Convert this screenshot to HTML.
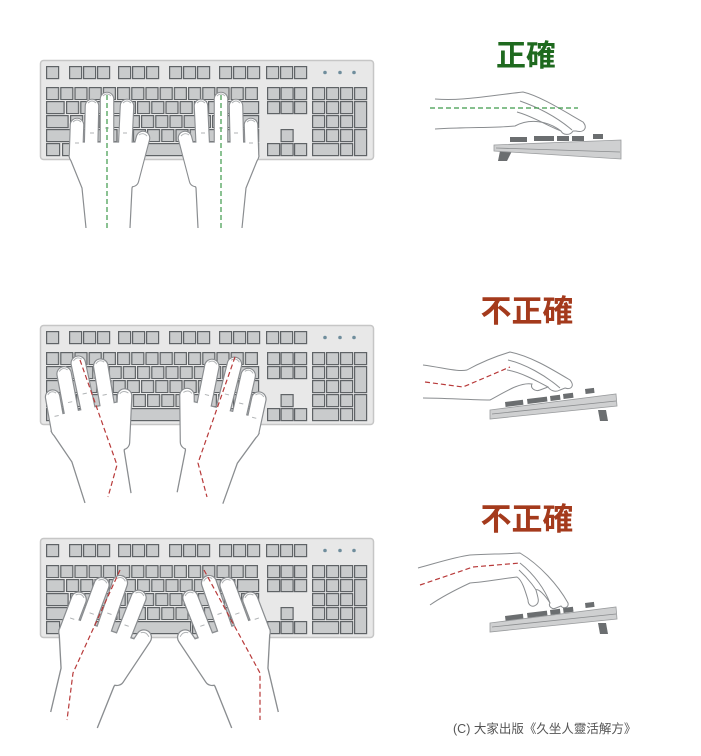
<!DOCTYPE html>
<html><head><meta charset="utf-8"><style>
html,body{margin:0;padding:0;background:#fff;}
svg{display:block;}
</style></head><body>
<svg width="701" height="756" viewBox="0 0 701 756" xmlns="http://www.w3.org/2000/svg">
<defs>
<pattern id="p6" patternUnits="userSpaceOnUse" x="6" y="27" width="14.2" height="14">
<rect x="0.6" y="0.6" width="12" height="12" fill="#c9cbcc" stroke="#5f6366" stroke-width="1.2"/></pattern>
<pattern id="p26" patternUnits="userSpaceOnUse" x="26" y="27" width="14.2" height="14">
<rect x="0.6" y="0.6" width="12" height="12" fill="#c9cbcc" stroke="#5f6366" stroke-width="1.2"/></pattern>
<pattern id="p30" patternUnits="userSpaceOnUse" x="30" y="27" width="14.2" height="14">
<rect x="0.6" y="0.6" width="12" height="12" fill="#c9cbcc" stroke="#5f6366" stroke-width="1.2"/></pattern>
<pattern id="p36" patternUnits="userSpaceOnUse" x="36" y="27" width="14.2" height="14">
<rect x="0.6" y="0.6" width="12" height="12" fill="#c9cbcc" stroke="#5f6366" stroke-width="1.2"/></pattern>
<g id="kb">
<rect x="0.5" y="0.5" width="333" height="99" rx="3" fill="#e8e8e8" stroke="#c6c6c6" stroke-width="1.5"/>
<g fill="#c9cbcc" stroke="#5f6366" stroke-width="1.2">
<rect x="6.6" y="6.6" width="12" height="12"/>
<rect x="29.6" y="6.6" width="12" height="12"/><rect x="43.6" y="6.6" width="12" height="12"/><rect x="57.6" y="6.6" width="12" height="12"/>
<rect x="78.6" y="6.6" width="12" height="12"/><rect x="92.6" y="6.6" width="12" height="12"/><rect x="106.6" y="6.6" width="12" height="12"/>
<rect x="129.6" y="6.6" width="12" height="12"/><rect x="143.6" y="6.6" width="12" height="12"/><rect x="157.6" y="6.6" width="12" height="12"/>
<rect x="179.6" y="6.6" width="12" height="12"/><rect x="193.6" y="6.6" width="12" height="12"/><rect x="207.6" y="6.6" width="12" height="12"/>
<rect x="226.6" y="6.6" width="12" height="12"/><rect x="240.6" y="6.6" width="12" height="12"/><rect x="254.6" y="6.6" width="12" height="12"/>
</g>
<g fill="#6f8d9c"><circle cx="285" cy="12.5" r="1.8"/><circle cx="300" cy="12.5" r="1.8"/><circle cx="314" cy="12.5" r="1.8"/></g>
<rect x="6" y="27" width="213" height="13" fill="url(#p6)"/>
<rect x="26" y="41" width="170.4" height="13" fill="url(#p26)"/>
<rect x="30" y="55" width="170.4" height="13" fill="url(#p30)"/>
<rect x="36" y="69" width="156.2" height="13" fill="url(#p36)"/>
<g fill="#c9cbcc" stroke="#5f6366" stroke-width="1.2">
<rect x="6.6" y="41.6" width="17.5" height="12"/><rect x="197.6" y="41.6" width="21" height="12"/>
<rect x="6.6" y="55.6" width="21.5" height="12"/><rect x="201.6" y="55.6" width="17" height="12"/>
<rect x="6.6" y="69.6" width="27.5" height="12"/><rect x="193.6" y="69.6" width="25" height="12"/>
<rect x="6.6" y="83.6" width="13" height="12"/><rect x="22.6" y="83.6" width="13" height="12"/><rect x="38.6" y="83.6" width="13" height="12"/>
<rect x="54.6" y="83.6" width="96" height="12"/><rect x="152.6" y="83.6" width="13" height="12"/><rect x="168.6" y="83.6" width="13" height="12"/><rect x="184.6" y="83.6" width="13" height="12"/><rect x="200.6" y="83.6" width="18" height="12"/>
<rect x="227.6" y="27.6" width="12" height="12"/><rect x="241.1" y="27.6" width="12" height="12"/><rect x="254.6" y="27.6" width="12" height="12"/>
<rect x="227.6" y="41.6" width="12" height="12"/><rect x="241.1" y="41.6" width="12" height="12"/><rect x="254.6" y="41.6" width="12" height="12"/>
<rect x="241.1" y="69.6" width="12" height="12"/>
<rect x="227.6" y="83.6" width="12" height="12"/><rect x="241.1" y="83.6" width="12" height="12"/><rect x="254.6" y="83.6" width="12" height="12"/>
<rect x="272.6" y="27.6" width="12" height="12"/><rect x="286.6" y="27.6" width="12" height="12"/><rect x="300.6" y="27.6" width="12" height="12"/><rect x="314.6" y="27.6" width="12" height="12"/>
<rect x="272.6" y="41.6" width="12" height="12"/><rect x="286.6" y="41.6" width="12" height="12"/><rect x="300.6" y="41.6" width="12" height="12"/><rect x="314.6" y="41.6" width="12" height="26"/>
<rect x="272.6" y="55.6" width="12" height="12"/><rect x="286.6" y="55.6" width="12" height="12"/><rect x="300.6" y="55.6" width="12" height="12"/>
<rect x="272.6" y="69.6" width="12" height="12"/><rect x="286.6" y="69.6" width="12" height="12"/><rect x="300.6" y="69.6" width="12" height="12"/><rect x="314.6" y="69.6" width="12" height="26"/>
<rect x="272.6" y="83.6" width="26" height="12"/><rect x="300.6" y="83.6" width="12" height="12"/>
</g>
</g>
<g id="hand">
<g stroke="#8a8d90" stroke-width="14.6" stroke-linecap="round" fill="none">
<line x1="-32" y1="-72" x2="-31" y2="-103"/>
<line x1="-17" y1="-78" x2="-16" y2="-122"/>
<line x1="-1" y1="-80" x2="-1" y2="-129"/>
<line x1="17" y1="-78" x2="19" y2="-122"/>
<line x1="24" y1="-48" x2="35" y2="-90"/>
</g>
<path d="M-22 0 L-26 -40 L-39 -72 L-32 -86 L28 -86 L31 -60 L24 -40 L22 0" fill="#fff" stroke="#8a8d90" stroke-width="1.2"/>
<g stroke="#fff" stroke-width="12.4" stroke-linecap="round" fill="none">
<line x1="-32" y1="-72" x2="-31" y2="-103"/>
<line x1="-17" y1="-78" x2="-16" y2="-122"/>
<line x1="-1" y1="-80" x2="-1" y2="-129"/>
<line x1="17" y1="-78" x2="19" y2="-122"/>
<line x1="24" y1="-48" x2="35" y2="-90"/>
</g>
<rect x="-21" y="-30" width="42" height="32" fill="#fff"/>
<g fill="none" stroke="#b0b3b5" stroke-width="0.9">
<path d="M-35 -106 q4 -4 8 0 M-20 -125 q4 -4 8 0 M-5 -132 q4 -4 8 0 M15 -125 q4 -4 8 0 M31 -93 q4 -3 8 1"/>
<path d="M-33 -85 h4 M-18 -95 h4 M-3 -100 h4 M15 -95 h4"/>
</g>
</g>
</defs>

<use href="#kb" x="40" y="60"/>
<use href="#kb" x="40" y="325"/>
<use href="#kb" x="40" y="538"/>

<!-- hands set 1 -->
<use href="#hand" transform="translate(108,228)"/>
<use href="#hand" transform="translate(220,228) scale(-1,1)"/>
<g stroke="#3e9a4a" stroke-width="1.2" stroke-dasharray="5,3">
<line x1="107" y1="95" x2="107" y2="228"/><line x1="221" y1="95" x2="221" y2="228"/>
</g>

<!-- hands set 2 -->
<use href="#hand" transform="translate(108,498) rotate(-12) scale(1.07)"/>
<use href="#hand" transform="translate(200,498) scale(-1,1) rotate(-14) scale(1.07)"/>
<g stroke="#b83a3a" stroke-width="1.2" stroke-dasharray="5,3" fill="none">
<polyline points="80,360 117,465 108,497"/>
<polyline points="235,357 198,463 207,497"/>
</g>

<!-- hands set 3 -->
<use href="#hand" transform="translate(74,720) rotate(19) scale(1.12)"/>
<use href="#hand" transform="translate(255,720) scale(-1,1) rotate(19) scale(1.12)"/>
<g stroke="#b83a3a" stroke-width="1.2" stroke-dasharray="5,3" fill="none">
<polyline points="120,570 73,673 67,720"/>
<polyline points="204,570 260,673 260,720"/>
</g>

<!-- titles -->
<g font-family="'Liberation Sans','Noto Sans CJK TC',sans-serif" font-weight="bold" text-anchor="middle" stroke="#fff" stroke-width="3" paint-order="stroke">
<text x="526" y="66" font-size="30" fill="#1f6a1f">正確</text>
<text x="527" y="322" font-size="31" fill="#a43a1c">不正確</text>
<text x="527" y="530" font-size="31" fill="#a43a1c">不正確</text>
</g>

<!-- side view 1 -->
<path d="M500,151 L512,151 L507,161 L498,161 Z" fill="#6b6e70"/>
<g fill="#6b6e70">
<rect x="510" y="137" width="17" height="5"/><rect x="534" y="136" width="20" height="5"/><rect x="557" y="136" width="12" height="5"/><rect x="572" y="136" width="12" height="5"/><rect x="593" y="134" width="10" height="5"/>
</g>
<path d="M494,145 L621,140 L621,159 L494,151 Z" fill="#cfd0d1" stroke="#9a9c9e" stroke-width="0.8"/>
<line x1="496" y1="148" x2="620" y2="152" stroke="#8a8c8e" stroke-width="0.8"/>
<g fill="#fff" stroke="#8a8d90" stroke-width="1">
<path d="M435,99 C460,101 480,97 523,92 C540,96 562,110 583,122 C588,128 584,133 576,131 L573,131 C570,136 563,135 561,131 C548,121 530,118 515,126 C495,128 470,127 435,129"/>
</g>
<g fill="none" stroke="#8a8d90" stroke-width="1">
<path d="M520,101 C540,108 558,118 572,130"/>
<path d="M517,112 C532,116 548,126 561,131"/>
</g>
<line x1="430" y1="108" x2="578" y2="108" stroke="#3e9a4a" stroke-width="1.2" stroke-dasharray="5,3"/>

<!-- side view 2 -->
<path d="M598,410 L606,410 L608,421 L600,421 Z" fill="#6b6e70"/>
<g fill="#6b6e70">
<rect x="505" y="402" width="18" height="5" transform="rotate(-7 505 402)"/><rect x="527" y="399" width="20" height="5" transform="rotate(-7 527 399)"/><rect x="550" y="396" width="10" height="5" transform="rotate(-7 550 396)"/><rect x="563" y="394" width="10" height="5" transform="rotate(-7 563 394)"/><rect x="585" y="389" width="9" height="5" transform="rotate(-7 585 389)"/>
</g>
<path d="M490,410 L616,394 L617,406 L490,419 Z" fill="#cfd0d1" stroke="#9a9c9e" stroke-width="0.8"/>
<line x1="492" y1="414" x2="616" y2="401" stroke="#8a8c8e" stroke-width="0.8"/>
<path d="M423,365 C445,368 458,372 467,370 C485,360 500,355 510,352 C530,356 550,368 570,380 C575,386 571,390 565,388 L560,390 C555,393 550,390 548,387 L540,390 C535,392 530,388 532,384 C520,382 505,392 490,400 C470,400 445,398 423,398" fill="#fff" stroke="#8a8d90" stroke-width="1"/>
<g fill="none" stroke="#8a8d90" stroke-width="1">
<path d="M508,360 C525,364 545,375 560,388"/>
<path d="M507,370 C520,372 535,380 548,387"/>
</g>
<polyline points="425,382 463,387 510,367" fill="none" stroke="#b83a3a" stroke-width="1.2" stroke-dasharray="5,3"/>

<!-- side view 3 -->
<path d="M598,623 L606,623 L608,634 L600,634 Z" fill="#6b6e70"/>
<g fill="#6b6e70">
<rect x="505" y="616" width="18" height="5" transform="rotate(-7 505 616)"/><rect x="527" y="613" width="20" height="5" transform="rotate(-7 527 613)"/><rect x="550" y="610" width="10" height="5" transform="rotate(-7 550 610)"/><rect x="563" y="608" width="10" height="5" transform="rotate(-7 563 608)"/><rect x="585" y="603" width="9" height="5" transform="rotate(-7 585 603)"/>
</g>
<path d="M490,623 L616,607 L617,619 L490,632 Z" fill="#cfd0d1" stroke="#9a9c9e" stroke-width="0.8"/>
<line x1="492" y1="627" x2="616" y2="614" stroke="#8a8c8e" stroke-width="0.8"/>
<path d="M418,568 C440,562 455,557 470,555 C490,554 505,554 520,553 C540,565 558,585 568,603 C569,608 563,609 561,606 L556,608 C552,610 548,606 550,603 C545,595 538,588 536,590 C538,598 540,602 536,605 C532,608 528,605 528,600 C525,590 522,580 517,577 C500,579 485,582 470,583 C455,590 440,598 430,605" fill="#fff" stroke="#8a8d90" stroke-width="1"/>
<g fill="none" stroke="#8a8d90" stroke-width="1">
<path d="M520,563 C535,575 545,590 550,603"/>
<path d="M519,570 C530,580 536,590 536,590"/>
</g>
<polyline points="420,585 473,567 520,563" fill="none" stroke="#b83a3a" stroke-width="1.2" stroke-dasharray="5,3"/>

<text x="453" y="733" font-family="'Liberation Sans','Noto Sans CJK TC',sans-serif" font-size="12.5" fill="#555">(C) 大家出版《久坐人靈活解方》</text>
</svg>
</body></html>
